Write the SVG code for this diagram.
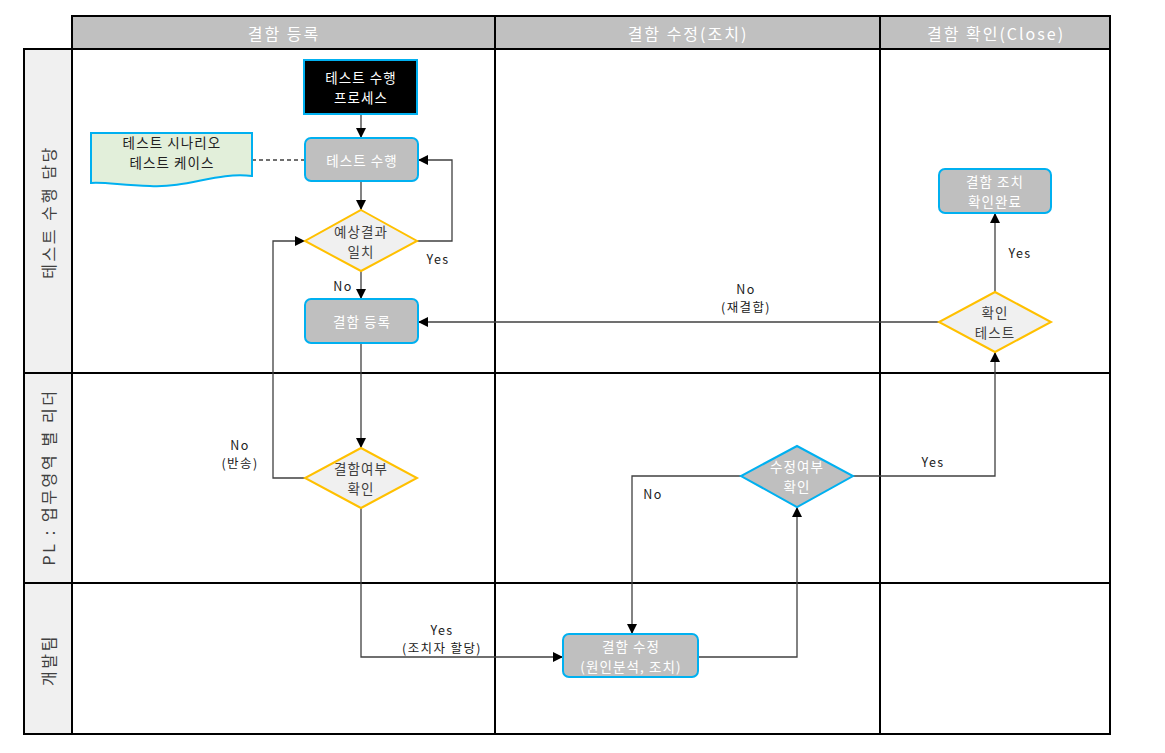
<svg xmlns="http://www.w3.org/2000/svg" width="1165" height="753" viewBox="0 0 1165 753">
<style>
text{font-family:"Noto Sans CJK KR","Malgun Gothic",sans-serif;font-size:13.5px;letter-spacing:1.1px;text-anchor:middle;dominant-baseline:central}
.hdr{fill:#c0c0c0;stroke:#000;stroke-width:2}
.hdrt{fill:#fff;font-size:16px;letter-spacing:2px}
.lane{fill:#fff;stroke:#000;stroke-width:2}
.lbl{fill:#f0f0f0;stroke:#000;stroke-width:2}
.lblt{fill:#404040;font-size:16px;letter-spacing:2.6px}
.proc{fill:#bfbfbf;stroke:#00b0f0;stroke-width:2}
.pt{fill:#fff}
.dec{fill:#f0f0f0;stroke:#ffc000;stroke-width:2}
.dt{fill:#404040}
.con{fill:none;stroke:#404040;stroke-width:1.3}
.cl{fill:#202020;font-size:12.5px;letter-spacing:1.4px}
</style>
<defs>
<marker id="ah" viewBox="0 0 10 10" refX="10" refY="5" markerWidth="10" markerHeight="10" markerUnits="userSpaceOnUse" orient="auto"><path d="M0,0 L10,5 L0,10 Z" fill="#000"/></marker>
</defs>
<rect width="1165" height="753" fill="#fff"/>
<g id="grid">
<rect class="hdr" x="72" y="16" width="423" height="33"/>
<rect class="hdr" x="495" y="16" width="385" height="33"/>
<rect class="hdr" x="880" y="16" width="230" height="33"/>
<text class="hdrt" x="284" y="33">결함 등록</text>
<text class="hdrt" x="688" y="33">결함 수정(조치)</text>
<text class="hdrt" x="996" y="33">결함 확인(Close)</text>
<rect class="lbl" x="24" y="49" width="48" height="324"/>
<rect class="lbl" x="24" y="373" width="48" height="210"/>
<rect class="lbl" x="24" y="583" width="48" height="151"/>
<rect class="lane" x="72" y="49" width="1038" height="685"/>
<line x1="72" y1="373" x2="1110" y2="373" stroke="#000" stroke-width="2"/>
<line x1="72" y1="583" x2="1110" y2="583" stroke="#000" stroke-width="2"/>
<line x1="495" y1="49" x2="495" y2="734" stroke="#000" stroke-width="2"/>
<line x1="880" y1="49" x2="880" y2="734" stroke="#000" stroke-width="2"/>
<text class="lblt" transform="translate(48,212) rotate(-90)">테스트 수행 담당</text>
<text class="lblt" transform="translate(48,477) rotate(-90)">PL : 업무영역 별 리더</text>
<text class="lblt" transform="translate(48,660) rotate(-90)">개발팀</text>
</g>
<g id="connectors">
<line class="con" x1="361" y1="114" x2="361" y2="138" marker-end="url(#ah)"/>
<line class="con" x1="252" y1="160" x2="305" y2="160" stroke-dasharray="4,3"/>
<line class="con" x1="361" y1="181" x2="361" y2="210" marker-end="url(#ah)"/>
<polyline class="con" points="417,241 452,241 452,160 418,160" marker-end="url(#ah)"/>
<text class="cl" x="438" y="258">Yes</text>
<line class="con" x1="361" y1="271" x2="361" y2="299" marker-end="url(#ah)"/>
<text class="cl" x="343" y="285">No</text>
<line class="con" x1="361" y1="343" x2="361" y2="448" marker-end="url(#ah)"/>
<polyline class="con" points="305,478 273,478 273,241 305,241" marker-end="url(#ah)"/>
<text class="cl" x="240" y="444">No</text>
<text class="cl" x="240" y="462">(반송)</text>
<polyline class="con" points="361,508 361,657 563,657" marker-end="url(#ah)"/>
<text class="cl" x="442" y="629">Yes</text>
<text class="cl" x="442" y="647">(조치자 할당)</text>
<polyline class="con" points="698,657 797,657 797,507" marker-end="url(#ah)"/>
<polyline class="con" points="741,476 632,476 632,634" marker-end="url(#ah)"/>
<text class="cl" x="653" y="493">No</text>
<polyline class="con" points="853,476 995,476 995,352" marker-end="url(#ah)"/>
<text class="cl" x="933" y="461">Yes</text>
<line class="con" x1="995" y1="292" x2="995" y2="213" marker-end="url(#ah)"/>
<text class="cl" x="1020" y="252">Yes</text>
<line class="con" x1="939" y1="322" x2="418" y2="322" marker-end="url(#ah)"/>
<text class="cl" x="746" y="288">No</text>
<text class="cl" x="746" y="306">(재결합)</text>
</g>
<g id="n-process">
<rect x="304" y="60" width="113" height="54" fill="#000" stroke="#00b0f0" stroke-width="2"/>
<text x="361" y="77" fill="#fff">테스트 수행</text>
<text x="361" y="97" fill="#fff">프로세스</text>
</g>
<g id="n-doc">
<path d="M91,133 H252 V176 C215,172 190,188 150,186 C120,185 105,182 91,183 Z" fill="#e2efda" stroke="#00b0f0" stroke-width="2"/>
<text x="172" y="142" fill="#202020">테스트 시나리오</text>
<text x="172" y="162" fill="#202020">테스트 케이스</text>
</g>
<g id="n-exec">
<rect class="proc" x="305" y="138" width="113" height="43" rx="6"/>
<text class="pt" x="362" y="160">테스트 수행</text>
</g>
<g id="n-match">
<polygon class="dec" points="361,210 417,241 361,271 305,241"/>
<text class="dt" x="361" y="231">예상결과</text>
<text class="dt" x="361" y="251">일치</text>
</g>
<g id="n-register">
<rect class="proc" x="305" y="299" width="113" height="44" rx="6"/>
<text class="pt" x="362" y="321">결함 등록</text>
</g>
<g id="n-defcheck">
<polygon class="dec" points="361,448 417,478 361,508 305,478"/>
<text class="dt" x="361" y="468">결함여부</text>
<text class="dt" x="361" y="488">확인</text>
</g>
<g id="n-fix">
<rect class="proc" x="563" y="634" width="135" height="43" rx="6"/>
<text class="pt" x="631" y="646">결함 수정</text>
<text class="pt" x="631" y="666">(원인분석, 조치)</text>
</g>
<g id="n-fixcheck">
<polygon points="797,446 853,476 797,507 741,476" fill="#bfbfbf" stroke="#00b0f0" stroke-width="2"/>
<text class="pt" x="797" y="466">수정여부</text>
<text class="pt" x="797" y="486">확인</text>
</g>
<g id="n-confirm">
<polygon class="dec" points="995,292 1051,322 995,352 939,322"/>
<text class="dt" x="995" y="312">확인</text>
<text class="dt" x="995" y="332">테스트</text>
</g>
<g id="n-done">
<rect class="proc" x="939" y="169" width="112" height="44" rx="6"/>
<text class="pt" x="995" y="181">결함 조치</text>
<text class="pt" x="995" y="201">확인완료</text>
</g>
</svg>
